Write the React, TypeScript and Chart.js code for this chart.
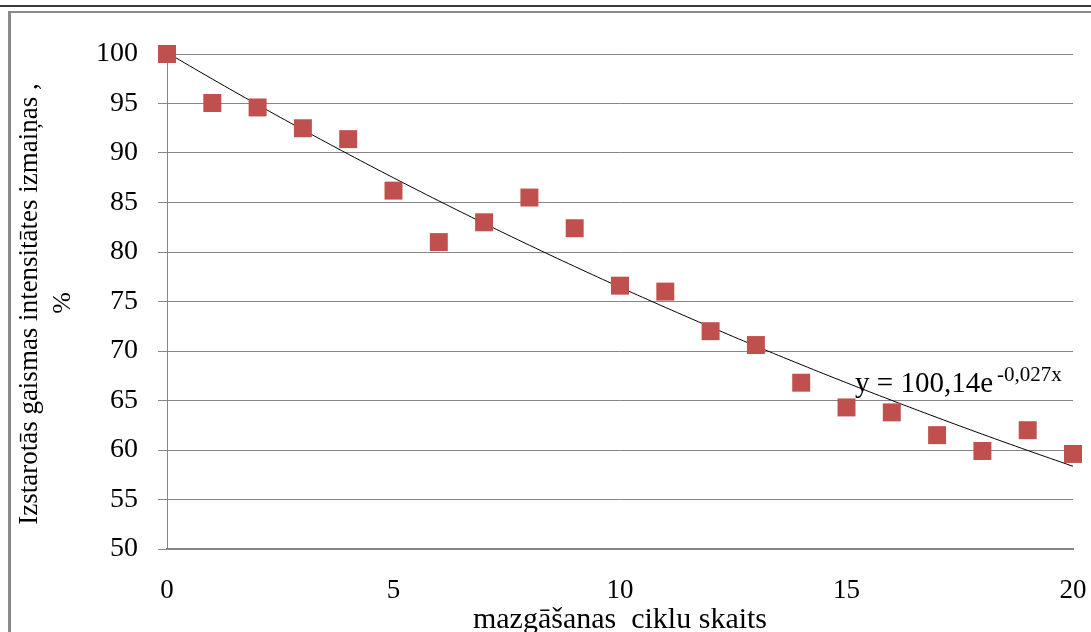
import React, { useEffect, useRef } from "react";
import { Chart, registerables } from "chart.js";

Chart.register(...registerables);

// Data
const cycles: number[] = [0, 1, 2, 3, 4, 5, 6, 7, 8, 9, 10, 11, 12, 13, 14, 15, 16, 17, 18, 19, 20];
const intensity: number[] = [
  100.0, 95.05, 94.6, 92.5, 91.4, 86.2, 81.0, 83.0, 85.5, 82.4,
  76.6, 76.0, 72.0, 70.6, 66.8, 64.3, 63.8, 61.5, 59.9, 62.0, 59.6,
];
const xTicks: number[] = [0, 5, 10, 15, 20];
const yTicks: number[] = [50, 55, 60, 65, 70, 75, 80, 85, 90, 95, 100];

// Exponential trend line as printed on the chart: y = 100,14e^(-0,027x)
const TREND_A = 100.14;
const TREND_B = -0.027;
const trendX: number[] = [0, 1, 2, 3, 4, 5, 6, 7, 8, 9, 10, 11, 12, 13, 14, 15, 16, 17, 18, 19, 20];

const yTitle: string[] = ["Izstarotās gaismas intensitātes izmaiņas ,", "%"];
const xTitle = "mazgāšanas  ciklu skaits";
const eqMain = "y = 100,14e";
const eqSup = "-0,027x";

const SERIF = '"Liberation Serif", "DejaVu Serif", serif';
const GRID = "#868686";
const RED = "#C0504D";

export default function App() {
  const ref = useRef<HTMLCanvasElement | null>(null);

  useEffect(() => {
    if (!ref.current) return;

    const decor = {
      id: "decor",
      beforeDraw(chart: any) {
        const ctx = chart.ctx;
        ctx.save();
        ctx.fillStyle = "#ffffff";
        ctx.fillRect(0, 0, chart.width, chart.height);
        // top dark rule
        ctx.fillStyle = "#3a3a3a";
        ctx.fillRect(0, 5, chart.width, 2);
        // gray frame
        ctx.fillStyle = "#8a8a8a";
        ctx.fillRect(8, 11, chart.width - 8, 2);
        ctx.fillRect(8, 11, 3, chart.height - 11);
        ctx.restore();
      },
      afterDraw(chart: any) {
        const ctx = chart.ctx;
        const xs = chart.scales.x;
        const ys = chart.scales.y;
        ctx.save();
        ctx.fillStyle = "#000";
        // y-axis title
        ctx.save();
        ctx.translate(30, 304);
        ctx.rotate(-Math.PI / 2);
        ctx.textAlign = "center";
        ctx.textBaseline = "middle";
        ctx.font = `27px ${SERIF}`;
        ctx.fillText(yTitle[0], 0, 0);
        ctx.font = `26px ${SERIF}`;
        ctx.fillText(yTitle[1], 1, 33);
        ctx.restore();
        // x-axis title
        ctx.textAlign = "center";
        ctx.textBaseline = "alphabetic";
        ctx.font = `30px ${SERIF}`;
        ctx.fillText(xTitle, (xs.left + xs.right) / 2, 628);
        // trend equation
        const ex = xs.getPixelForValue(15.19);
        const ey = ys.getPixelForValue(65.86);
        ctx.textAlign = "left";
        ctx.font = `29px ${SERIF}`;
        ctx.fillText(eqMain, ex, ey);
        const w = ctx.measureText(eqMain).width;
        ctx.font = `21px ${SERIF}`;
        ctx.fillText(eqSup, ex + w + 4, ey - 11);
        ctx.restore();
      },
    };

    const chart = new Chart(ref.current, {
      type: "scatter",
      data: {
        datasets: [
          {
            type: "line",
            label: "trend",
            data: trendX.map((x) => ({ x, y: TREND_A * Math.exp(TREND_B * x) })),
            borderColor: "#000000",
            borderWidth: 1,
            pointRadius: 0,
            fill: false,
            tension: 0.4,
            order: 2,
            clip: false,
          },
          {
            label: "data",
            data: cycles.map((x, i) => ({ x, y: intensity[i] })),
            pointStyle: "rect",
            pointRadius: 12.7,
            pointHoverRadius: 12.7,
            backgroundColor: RED,
            borderColor: RED,
            borderWidth: 0,
            order: 1,
            clip: false,
          },
        ],
      },
      options: {
        responsive: false,
        animation: false,
        events: [],
        layout: { autoPadding: false, padding: { top: 54, right: 18, left: 0, bottom: 0 } },
        plugins: {
          legend: { display: false },
          tooltip: { enabled: false },
          title: { display: false },
        },
        scales: {
          x: {
            type: "linear",
            min: 0,
            max: 20,
            afterFit: (s: any) => {
              s.height = 83;
              s.paddingLeft = 0;
              s.paddingRight = 0;
            },
            afterBuildTicks: (s: any) => {
              s.ticks = xTicks.map((v) => ({ value: v }));
            },
            grid: { display: false, drawTicks: false },
            border: { display: true, color: GRID, width: 2 },
            ticks: {
              color: "#000",
              font: { family: SERIF, size: 27 },
              padding: 26,
              maxRotation: 0,
            },
          },
          y: {
            type: "linear",
            min: 50,
            max: 100,
            afterFit: (s: any) => {
              s.width = 167;
              s.paddingTop = 0;
              s.paddingBottom = 0;
            },
            afterBuildTicks: (s: any) => {
              s.ticks = yTicks.map((v) => ({ value: v }));
            },
            grid: { color: GRID, lineWidth: 1, drawTicks: true, tickLength: 9, tickColor: GRID },
            border: { display: true, color: GRID, width: 1 },
            ticks: {
              color: "#000",
              font: { family: SERIF, size: 28 },
              padding: 20,
            },
          },
        },
      },
      plugins: [decor],
    } as any);

    return () => chart.destroy();
  }, []);

  return (
    <div style={{ position: "fixed", left: 0, top: 0, width: 1091, height: 632, overflow: "hidden", background: "#fff" }}>
      <canvas ref={ref} width={1091} height={632} style={{ display: "block", width: 1091, height: 632 }} />
    </div>
  );
}
